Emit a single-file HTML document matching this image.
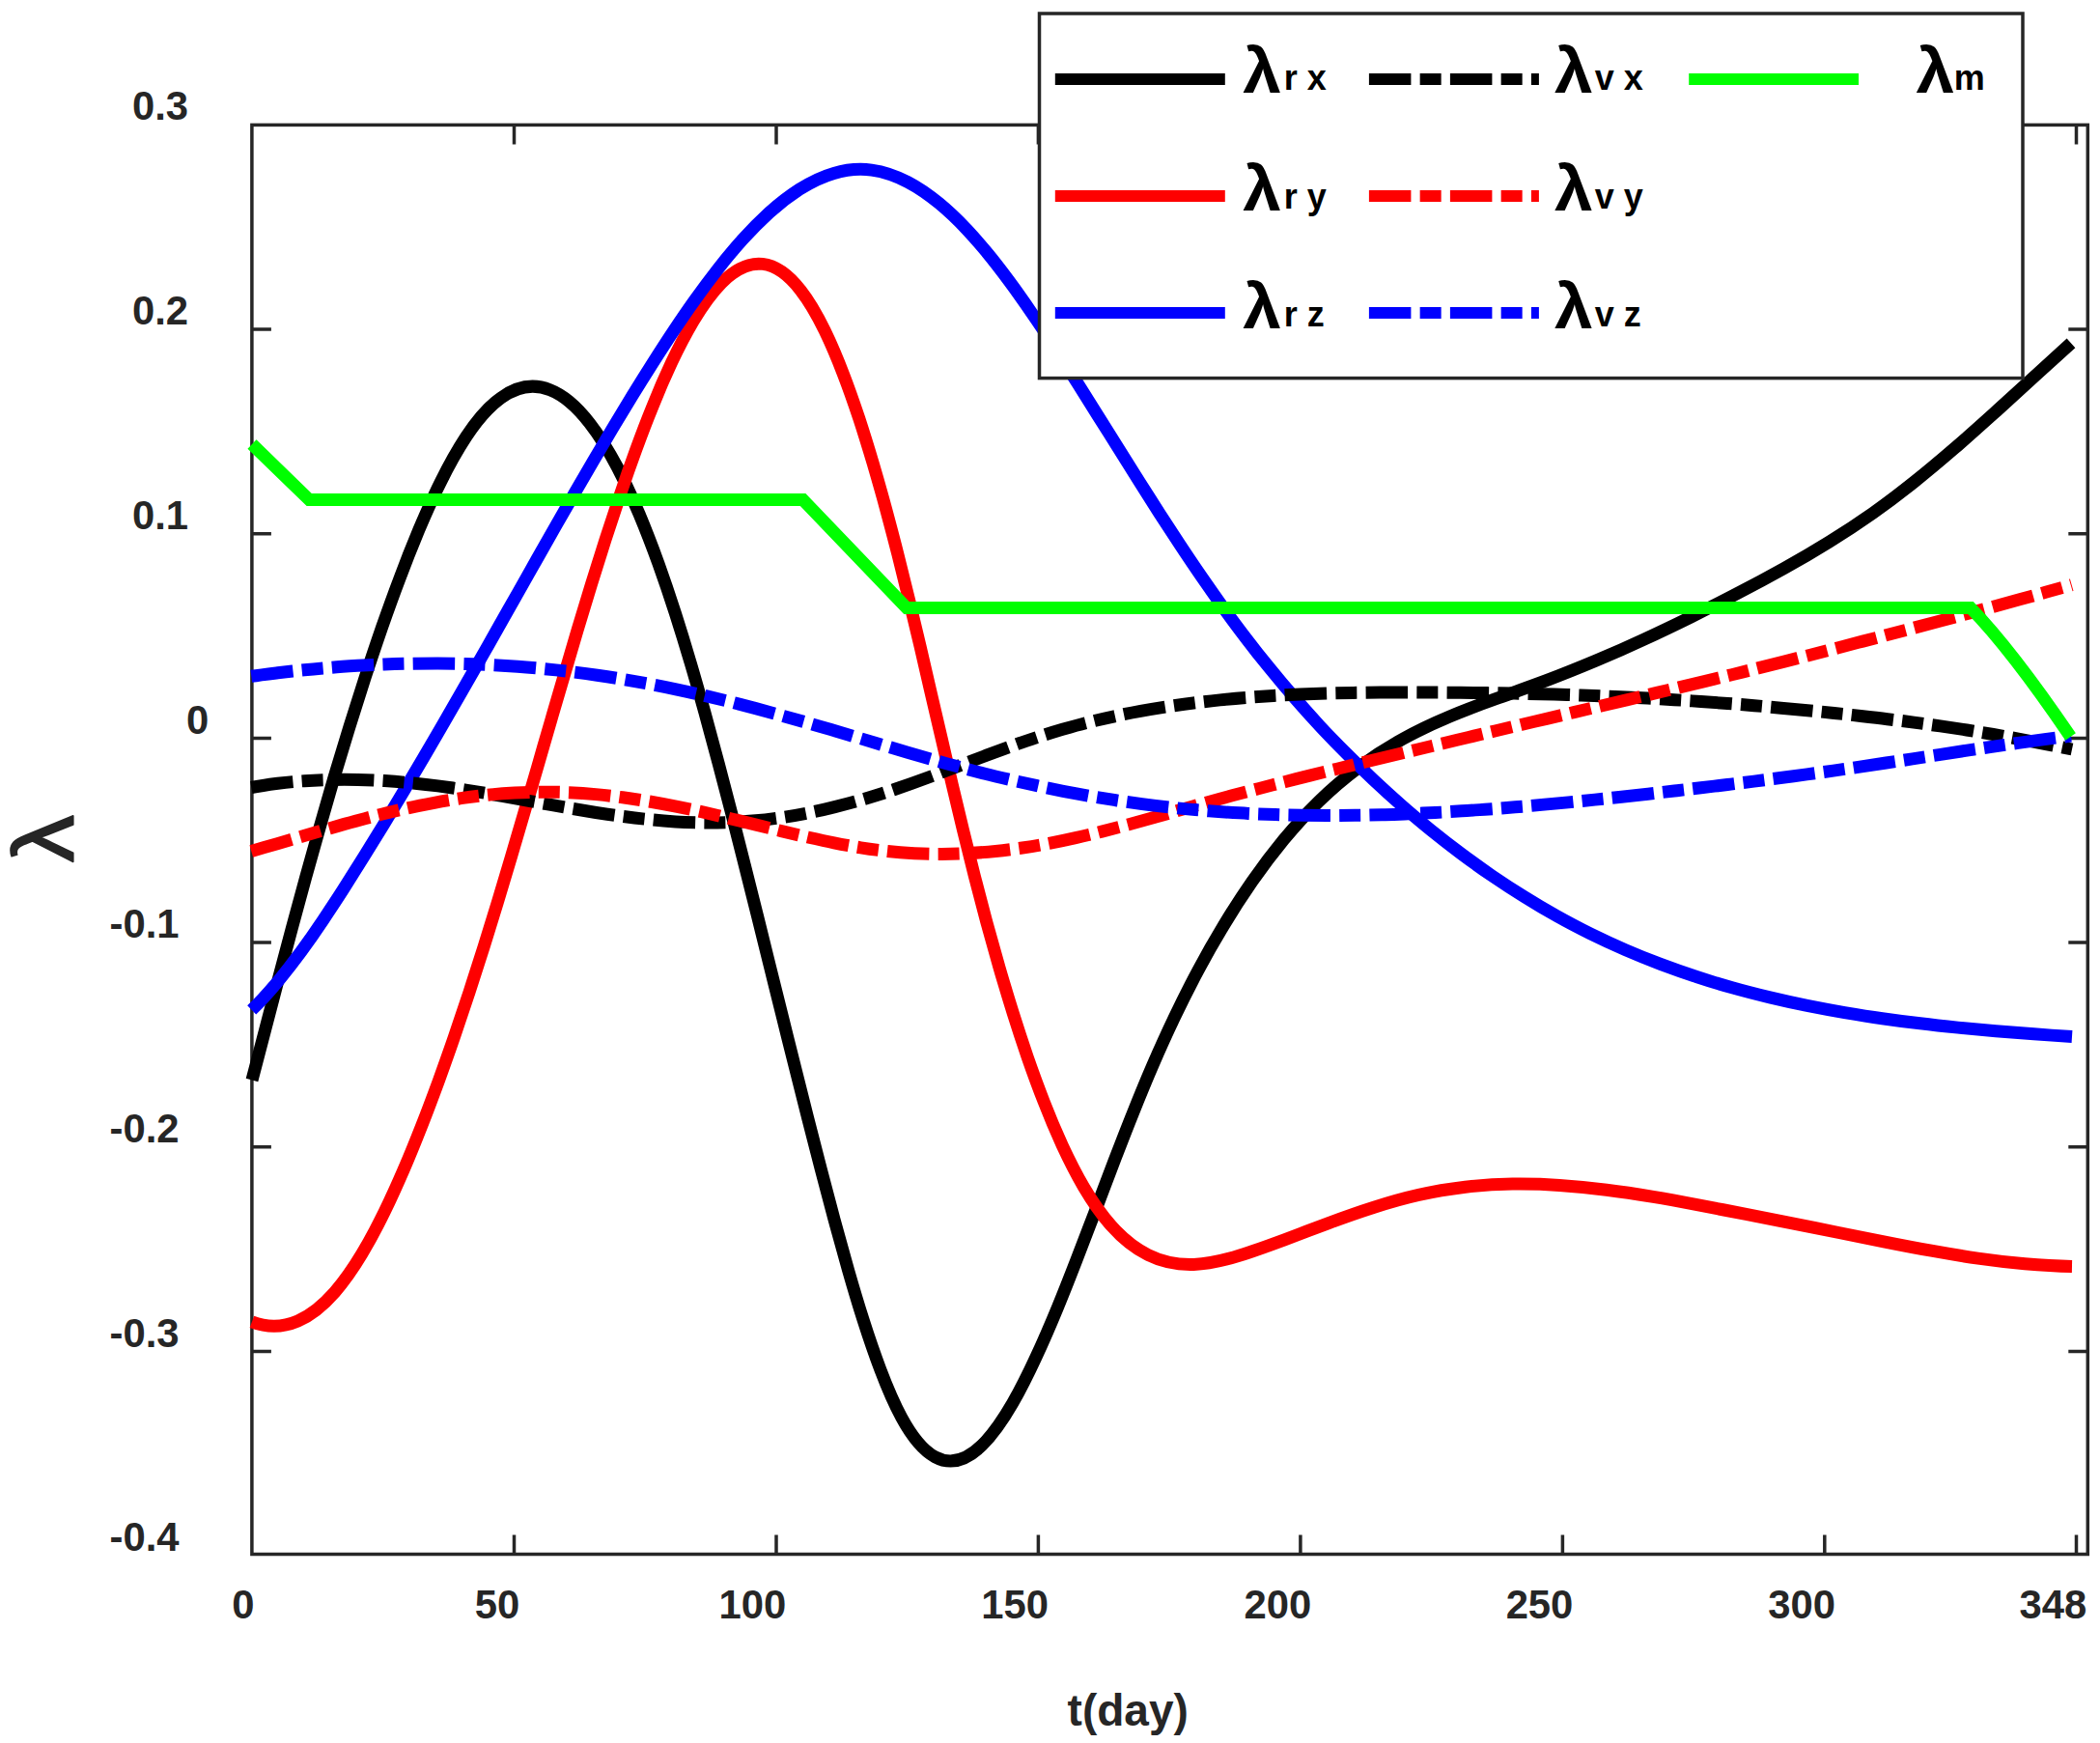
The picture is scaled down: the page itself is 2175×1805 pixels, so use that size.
<!DOCTYPE html>
<html lang="en"><head><meta charset="utf-8"><title>Costates</title>
<style>html,body{margin:0;padding:0;background:#fff}body{width:2175px;height:1805px;overflow:hidden}svg{display:block}text{font-family:"Liberation Sans",sans-serif;font-weight:bold;fill:#262626}.lam{fill:#000}.sub{fill:#000}</style></head><body>
<svg width="2175" height="1805" viewBox="0 0 2175 1805">
<rect width="2175" height="1805" fill="#fff"/>
<g fill="none" stroke="#262626" stroke-width="3.5" stroke-linecap="square">
<rect x="260.9" y="129.4" width="1901.4" height="1480.1"/>
</g>
<g fill="none" stroke="#262626" stroke-width="3.5">
<path d="M532.5 1609.5 v-20 M532.5 129.4 v20 M804.0 1609.5 v-20 M804.0 129.4 v20 M1075.4 1609.5 v-20 M1075.4 129.4 v20 M1346.9 1609.5 v-20 M1346.9 129.4 v20 M1618.4 1609.5 v-20 M1618.4 129.4 v20 M1889.8 1609.5 v-20 M1889.8 129.4 v20 M2150.5 1609.5 v-20 M2150.5 129.4 v20 M260.9 341.0 h20 M2162.3 341.0 h-20 M260.9 552.7 h20 M2162.3 552.7 h-20 M260.9 764.4 h20 M2162.3 764.4 h-20 M260.9 976.1 h20 M2162.3 976.1 h-20 M260.9 1187.8 h20 M2162.3 1187.8 h-20 M260.9 1399.5 h20 M2162.3 1399.5 h-20"/>
</g>
<g fill="none" stroke-width="13.0" stroke-linejoin="round">
<path d="M261.0 1118.5C265.6 1101.0 270.1 1083.5 274.7 1066.1C279.3 1048.5 283.8 1031.1 288.4 1013.7C293.1 996.1 297.7 978.6 302.3 961.4C307.1 943.7 311.8 926.3 316.5 909.1C321.4 891.4 326.2 874.0 331.1 856.9C336.1 839.3 341.1 821.9 346.1 804.9C351.4 787.2 356.6 769.9 361.8 753.1C367.3 735.4 372.7 718.2 378.2 701.4C383.9 683.8 389.7 666.7 395.4 650.1C401.6 632.5 407.7 615.5 413.9 599.2C420.5 581.5 427.2 564.7 433.8 548.8C441.3 531.1 448.7 514.6 456.2 499.5C465.0 481.6 473.9 465.8 482.7 452.4C494.7 434.3 506.6 420.8 518.6 412.2C535.6 399.8 552.6 397.0 569.6 403.7C583.3 409.0 597.0 420.5 610.6 438.1C620.2 450.4 629.8 465.7 639.4 483.9C647.0 498.4 654.6 514.8 662.3 532.9C668.8 548.5 675.3 565.3 681.9 583.4C687.7 599.5 693.5 616.6 699.3 634.7C704.6 651.2 709.9 668.5 715.2 686.5C720.2 703.3 725.1 720.7 730.1 738.5C734.8 755.6 739.5 773.0 744.2 790.8C748.8 808.0 753.3 825.5 757.9 843.2C762.3 860.5 766.8 878.1 771.2 895.7C775.6 913.1 780.0 930.6 784.4 948.2C788.7 965.7 793.1 983.2 797.4 1000.8C801.8 1018.3 806.1 1035.9 810.5 1053.4C814.8 1070.9 819.2 1088.5 823.6 1105.9C828.0 1123.5 832.4 1141.1 836.8 1158.4C841.3 1176.1 845.8 1193.6 850.3 1210.9C854.9 1228.6 859.5 1246.1 864.1 1263.2C869.0 1281.1 873.8 1298.6 878.6 1315.4C883.8 1333.5 889.0 1350.9 894.2 1367.3C900.1 1385.8 906.0 1402.9 911.9 1418.5C919.2 1437.8 926.5 1454.5 933.8 1468.0C945.3 1489.2 956.8 1502.5 968.4 1508.7C984.6 1517.5 1000.8 1512.5 1017.0 1496.7C1027.6 1486.4 1038.2 1471.5 1048.8 1453.1C1057.0 1438.8 1065.1 1422.6 1073.3 1404.8C1080.5 1389.3 1087.7 1372.6 1094.9 1355.2C1101.6 1338.9 1108.2 1322.1 1114.9 1304.8C1121.4 1288.2 1127.8 1271.3 1134.3 1254.3C1140.7 1237.4 1147.1 1220.4 1153.5 1203.6C1160.1 1186.5 1166.6 1169.6 1173.2 1153.2C1180.1 1135.9 1187.0 1119.1 1193.9 1103.1C1201.4 1085.9 1208.8 1069.5 1216.3 1053.8C1224.4 1036.8 1232.5 1020.7 1240.6 1005.5C1249.5 988.8 1258.5 973.1 1267.4 958.4C1277.2 942.1 1287.0 927.0 1296.8 912.9C1307.7 897.3 1318.6 882.9 1329.5 869.7C1341.6 855.0 1353.8 841.7 1366.0 829.8C1379.7 816.5 1393.5 804.9 1407.2 794.7C1422.3 783.4 1437.5 773.8 1452.7 765.4C1468.9 756.4 1485.2 748.8 1501.5 742.0C1518.3 734.9 1535.2 728.7 1552.1 722.7C1569.0 716.6 1586.0 710.6 1603.0 704.2C1619.7 697.9 1636.5 691.1 1653.2 684.1C1669.8 677.1 1686.3 669.8 1702.8 662.1C1719.1 654.6 1735.3 646.8 1751.6 638.8C1767.7 630.9 1783.8 622.7 1799.9 614.3C1815.9 606.1 1831.8 597.6 1847.7 588.7C1863.2 580.1 1878.8 571.0 1894.4 561.3C1909.4 552.0 1924.5 542.1 1939.6 531.5C1954.0 521.3 1968.4 510.4 1982.8 498.9C1996.7 487.8 2010.5 476.2 2024.4 464.2C2037.9 452.5 2051.4 440.5 2064.9 428.3C2078.3 416.2 2091.6 404.0 2105.0 391.8C2118.3 379.6 2131.7 367.4 2145.0 355.4" stroke="#000000"/>
<path d="M260.9 1368.9C276.8 1374.9 292.7 1374.8 308.5 1368.0C321.3 1362.5 334.0 1352.6 346.7 1338.1C356.1 1327.3 365.6 1313.9 375.0 1298.2C382.7 1285.3 390.4 1270.9 398.1 1255.2C404.9 1241.3 411.6 1226.4 418.4 1210.7C424.6 1196.3 430.7 1181.2 436.9 1165.4C442.7 1150.7 448.4 1135.4 454.2 1119.7C459.6 1104.7 465.1 1089.4 470.5 1073.6C475.7 1058.5 480.9 1043.0 486.1 1027.2C491.1 1012.0 496.1 996.5 501.1 980.6C505.9 965.4 510.7 949.8 515.5 933.9C520.2 918.5 524.8 902.9 529.5 887.1C534.1 871.6 538.7 855.9 543.3 840.2C547.9 824.6 552.4 808.9 557.0 793.2C561.5 777.5 566.0 761.9 570.6 746.2C575.1 730.5 579.7 714.8 584.3 699.3C588.9 683.5 593.5 667.8 598.1 652.4C602.9 636.6 607.6 620.9 612.3 605.6C617.2 589.7 622.1 574.1 627.0 558.9C632.1 543.0 637.2 527.5 642.3 512.5C647.7 496.5 653.1 481.1 658.5 466.3C664.3 450.3 670.1 435.1 676.0 420.7C682.4 404.6 688.9 389.6 695.4 375.8C703.0 359.7 710.6 345.2 718.1 332.5C727.8 316.3 737.4 303.1 747.1 293.2C761.4 278.7 775.6 271.7 789.9 273.4C803.0 274.9 816.1 283.7 829.1 300.5C837.5 311.2 845.8 325.2 854.2 342.4C860.6 355.6 867.0 370.6 873.4 387.3C878.9 401.5 884.3 416.9 889.8 433.4C894.6 448.1 899.4 463.7 904.3 480.1C908.7 495.1 913.2 510.8 917.6 527.2C921.7 542.4 925.9 558.2 930.0 574.5C933.9 589.9 937.8 605.7 941.7 621.9C945.5 637.5 949.3 653.4 953.1 669.5C956.8 685.3 960.4 701.2 964.1 717.2C967.8 733.0 971.5 748.9 975.2 764.8C978.9 780.8 982.5 796.7 986.2 812.4C990.0 828.5 993.8 844.4 997.6 860.0C1001.5 876.2 1005.4 892.0 1009.4 907.5C1013.5 923.7 1017.7 939.5 1021.8 954.8C1026.2 971.0 1030.6 986.7 1035.0 1001.9C1039.7 1018.1 1044.4 1033.7 1049.1 1048.7C1054.2 1064.9 1059.3 1080.4 1064.3 1095.1C1070.0 1111.4 1075.6 1126.7 1081.2 1141.0C1087.5 1157.3 1093.9 1172.3 1100.2 1186.1C1107.7 1202.3 1115.2 1216.8 1122.6 1229.5C1132.1 1245.6 1141.5 1258.7 1150.9 1269.3C1163.6 1283.6 1176.3 1293.3 1189.0 1299.5C1204.8 1307.4 1220.6 1309.9 1236.4 1309.4C1252.3 1308.8 1268.3 1305.0 1284.2 1300.0C1299.6 1295.2 1315.0 1289.5 1330.4 1283.8C1345.6 1278.1 1360.9 1272.3 1376.1 1266.6C1391.5 1260.9 1406.9 1255.4 1422.3 1250.5C1438.0 1245.4 1453.7 1240.9 1469.4 1237.4C1485.5 1233.7 1501.5 1231.1 1517.6 1229.2C1533.9 1227.4 1550.1 1226.4 1566.4 1226.1C1582.7 1225.9 1599.0 1226.3 1615.3 1227.4C1631.5 1228.5 1647.7 1230.1 1663.9 1232.2C1680.0 1234.2 1696.2 1236.7 1712.3 1239.4C1728.3 1242.1 1744.4 1245.1 1760.4 1248.1C1776.4 1251.2 1792.4 1254.3 1808.4 1257.4C1824.4 1260.5 1840.4 1263.7 1856.4 1266.9C1872.4 1270.1 1888.4 1273.3 1904.4 1276.5C1920.3 1279.7 1936.3 1282.9 1952.3 1286.1C1968.3 1289.3 1984.3 1292.4 2000.3 1295.2C2016.4 1298.1 2032.5 1300.8 2048.6 1303.1C2064.8 1305.4 2081.0 1307.3 2097.2 1308.8C2113.5 1310.2 2129.7 1311.2 2146.0 1311.5" stroke="#fe0000"/>
<path d="M260.7 1045.9C269.6 1037.3 278.5 1027.5 287.4 1016.8C295.5 1007.1 303.6 996.7 311.7 985.7C319.2 975.4 326.8 964.5 334.3 953.3C341.5 942.6 348.8 931.6 356.0 920.3C363.0 909.3 370.0 898.2 377.0 886.9C383.9 875.8 390.8 864.6 397.7 853.3C404.5 842.1 411.3 830.8 418.1 819.4C424.8 808.2 431.5 796.9 438.2 785.4C444.8 774.1 451.4 762.8 458.1 751.3C464.6 740.0 471.2 728.6 477.8 717.1C484.3 705.7 490.8 694.3 497.4 682.8C503.9 671.4 510.4 659.9 516.8 648.5C523.3 637.0 529.8 625.6 536.3 614.1C542.8 602.6 549.3 591.2 555.7 579.7C562.2 568.2 568.7 556.8 575.2 545.4C581.8 533.9 588.3 522.5 594.9 511.1C601.5 499.7 608.1 488.3 614.7 477.0C621.4 465.5 628.1 454.2 634.8 443.0C641.6 431.6 648.5 420.3 655.3 409.2C662.2 397.9 669.2 386.7 676.2 375.7C683.4 364.4 690.5 353.4 697.7 342.6C705.2 331.4 712.6 320.5 720.1 310.1C728.0 299.0 735.8 288.5 743.7 278.4C752.1 267.7 760.6 257.5 769.0 248.2C778.3 237.9 787.6 228.5 796.8 220.1C807.2 210.7 817.7 202.7 828.1 196.0C840.0 188.5 851.8 182.8 863.7 179.4C876.7 175.6 889.8 174.4 902.8 176.1C915.2 177.8 927.7 182.0 940.1 188.5C951.0 194.2 961.8 201.6 972.7 210.6C982.3 218.5 991.8 227.6 1001.4 237.7C1010.0 246.9 1018.6 256.9 1027.2 267.6C1035.1 277.5 1043.1 288.1 1051.1 299.1C1058.6 309.5 1066.1 320.3 1073.6 331.5C1080.9 342.2 1088.1 353.2 1095.4 364.4C1102.5 375.4 1109.5 386.5 1116.6 397.7C1123.6 408.8 1130.6 420.0 1137.6 431.2C1144.6 442.3 1151.6 453.5 1158.6 464.6C1165.6 475.8 1172.6 487.0 1179.6 498.1C1186.7 509.3 1193.7 520.4 1200.8 531.4C1208.0 542.5 1215.2 553.6 1222.4 564.5C1229.7 575.6 1237.1 586.5 1244.4 597.2C1252.0 608.2 1259.6 619.0 1267.1 629.5C1275.0 640.4 1282.8 651.0 1290.7 661.2C1298.8 671.9 1307.0 682.2 1315.2 692.2C1323.6 702.6 1332.1 712.7 1340.6 722.4C1349.4 732.5 1358.2 742.3 1367.0 751.8C1376.1 761.6 1385.3 771.1 1394.4 780.2C1403.8 789.7 1413.3 798.9 1422.7 807.7C1432.5 816.9 1442.2 825.7 1452.0 834.3C1462.0 843.1 1472.1 851.5 1482.1 859.7C1492.5 868.1 1502.9 876.2 1513.3 884.0C1524.0 892.0 1534.7 899.7 1545.4 907.0C1556.4 914.5 1567.4 921.7 1578.5 928.5C1589.8 935.6 1601.1 942.3 1612.5 948.6C1624.1 955.1 1635.8 961.2 1647.4 967.0C1659.4 972.9 1671.3 978.4 1683.3 983.6C1695.5 988.9 1707.7 993.8 1719.8 998.4C1732.3 1003.1 1744.7 1007.5 1757.1 1011.5C1769.7 1015.7 1782.3 1019.5 1794.9 1023.0C1807.6 1026.6 1820.4 1029.8 1833.1 1032.9C1846.0 1036.0 1858.8 1038.8 1871.7 1041.4C1884.6 1044.0 1897.5 1046.4 1910.5 1048.6C1923.5 1050.8 1936.5 1052.9 1949.5 1054.7C1962.6 1056.6 1975.6 1058.3 1988.7 1059.8C2001.7 1061.4 2014.8 1062.8 2027.9 1064.1C2041.0 1065.4 2054.1 1066.6 2067.2 1067.7C2080.4 1068.8 2093.5 1069.8 2106.6 1070.8C2119.7 1071.8 2132.9 1072.7 2146.0 1073.5" stroke="#0000fe"/>
<path d="M260.3 815.5C269.4 813.8 278.6 812.5 287.7 811.3C296.9 810.2 306.1 809.3 315.2 808.7C324.5 808.0 333.7 807.6 342.9 807.4C352.1 807.2 361.4 807.2 370.6 807.4C379.8 807.6 389.1 808.0 398.3 808.6C407.5 809.2 416.7 809.9 425.9 810.8C435.1 811.7 444.2 812.7 453.4 813.9C462.5 815.1 471.7 816.4 480.8 817.8C489.9 819.2 499.1 820.7 508.2 822.3C517.3 823.8 526.3 825.5 535.4 827.1C544.5 828.8 553.6 830.4 562.7 832.1C571.8 833.7 580.9 835.4 590.0 836.9C599.1 838.5 608.2 840.0 617.3 841.5C626.4 842.9 635.6 844.2 644.7 845.4C653.9 846.6 663.0 847.7 672.2 848.6C681.4 849.6 690.6 850.3 699.8 850.9C709.0 851.5 718.3 851.8 727.5 852.0C736.7 852.1 745.9 852.0 755.2 851.7C764.4 851.3 773.6 850.7 782.8 849.8C792.0 849.0 801.1 847.8 810.3 846.5C819.4 845.1 828.5 843.5 837.6 841.7C846.6 839.9 855.6 837.9 864.6 835.6C873.5 833.4 882.4 831.1 891.4 828.5C900.2 826.0 909.0 823.2 917.8 820.4C926.6 817.5 935.3 814.5 944.1 811.4C952.7 808.3 961.4 805.1 970.1 801.9C978.7 798.6 987.3 795.3 996.0 792.0C1004.6 788.7 1013.2 785.4 1021.8 782.2C1030.5 778.9 1039.2 775.7 1047.8 772.6C1056.5 769.4 1065.3 766.4 1074.0 763.5C1082.8 760.6 1091.6 757.9 1100.5 755.3C1109.4 752.8 1118.3 750.3 1127.2 748.1C1136.2 745.8 1145.2 743.7 1154.2 741.8C1163.2 739.8 1172.3 738.0 1181.3 736.4C1190.4 734.7 1199.5 733.2 1208.6 731.8C1217.8 730.4 1226.9 729.1 1236.1 728.0C1245.2 726.8 1254.4 725.8 1263.6 724.9C1272.8 723.9 1282.0 723.1 1291.2 722.4C1300.4 721.6 1309.6 721.0 1318.8 720.4C1328.0 719.9 1337.2 719.4 1346.5 719.0C1355.7 718.6 1364.9 718.3 1374.1 718.0C1383.4 717.8 1392.6 717.6 1401.8 717.4C1411.1 717.3 1420.3 717.2 1429.5 717.1C1438.8 717.0 1448.0 717.0 1457.2 717.0C1466.5 717.0 1475.7 717.0 1484.9 717.1C1494.2 717.1 1503.4 717.2 1512.6 717.3C1521.9 717.4 1531.1 717.5 1540.3 717.6C1549.6 717.8 1558.8 717.9 1568.0 718.1C1577.3 718.3 1586.5 718.5 1595.7 718.7C1604.9 719.0 1614.2 719.2 1623.4 719.5C1632.6 719.8 1641.9 720.1 1651.1 720.5C1660.3 720.9 1669.5 721.3 1678.8 721.7C1688.0 722.1 1697.2 722.6 1706.4 723.1C1715.6 723.6 1724.8 724.1 1734.1 724.7C1743.3 725.2 1752.5 725.9 1761.7 726.5C1770.9 727.1 1780.1 727.8 1789.3 728.5C1798.5 729.2 1807.7 730.0 1816.9 730.7C1826.1 731.5 1835.3 732.3 1844.5 733.2C1853.7 734.0 1862.9 734.8 1872.1 735.7C1881.3 736.6 1890.5 737.5 1899.7 738.5C1908.8 739.4 1918.0 740.4 1927.2 741.5C1936.4 742.5 1945.6 743.5 1954.7 744.7C1963.9 745.8 1973.0 746.9 1982.2 748.1C1991.3 749.3 2000.5 750.6 2009.6 751.9C2018.8 753.2 2027.9 754.6 2037.0 756.0C2046.1 757.5 2055.2 759.0 2064.4 760.5C2073.4 762.1 2082.5 763.7 2091.6 765.4C2100.7 767.1 2109.8 768.8 2118.8 770.6C2127.9 772.3 2136.9 774.1 2146.0 776.0" stroke="#000000" stroke-dasharray="43.5 9.25 22 9.25"/>
<path d="M260.3 881.5C269.3 878.9 278.2 876.3 287.2 873.7C296.2 871.1 305.1 868.4 314.1 865.8C323.1 863.2 332.0 860.5 341.0 858.0C350.0 855.4 359.0 852.8 368.0 850.4C377.0 847.9 386.0 845.5 395.1 843.3C404.1 841.0 413.2 838.9 422.3 836.9C431.5 834.8 440.6 833.0 449.8 831.3C459.0 829.6 468.2 828.1 477.4 826.7C486.7 825.4 495.9 824.2 505.2 823.3C514.5 822.3 523.8 821.6 533.1 821.1C542.5 820.5 551.8 820.2 561.1 820.2C570.5 820.1 579.8 820.3 589.1 820.7C598.5 821.1 607.8 821.7 617.1 822.6C626.4 823.5 635.6 824.5 644.9 825.8C654.1 827.0 663.4 828.5 672.6 830.0C681.8 831.6 691.0 833.3 700.2 835.2C709.3 837.0 718.4 838.9 727.6 840.9C736.7 843.0 745.8 845.1 754.9 847.3C763.9 849.4 773.0 851.6 782.1 853.9C791.1 856.1 800.2 858.4 809.3 860.6C818.4 862.8 827.5 864.9 836.6 867.0C845.7 869.0 854.8 871.0 863.9 872.8C873.1 874.7 882.3 876.3 891.5 877.8C900.8 879.3 910.0 880.5 919.3 881.5C928.6 882.6 937.9 883.3 947.2 883.8C956.5 884.2 965.9 884.5 975.2 884.4C984.5 884.4 993.9 884.1 1003.2 883.6C1012.5 883.1 1021.8 882.4 1031.1 881.5C1040.4 880.5 1049.7 879.3 1058.9 878.0C1068.1 876.6 1077.3 875.1 1086.6 873.3C1095.7 871.6 1104.8 869.7 1114.0 867.6C1123.1 865.6 1132.1 863.4 1141.2 861.1C1150.3 858.8 1159.3 856.4 1168.3 854.0C1177.3 851.5 1186.3 849.0 1195.3 846.5C1204.3 844.0 1213.3 841.4 1222.3 838.8C1231.3 836.3 1240.2 833.7 1249.2 831.2C1258.2 828.7 1267.2 826.3 1276.2 823.8C1285.3 821.4 1294.3 819.0 1303.3 816.7C1312.4 814.3 1321.4 812.0 1330.5 809.7C1339.5 807.4 1348.6 805.1 1357.6 802.9C1366.7 800.6 1375.8 798.4 1384.8 796.2C1393.9 793.9 1403.0 791.7 1412.1 789.5C1421.1 787.3 1430.2 785.2 1439.3 783.0C1448.4 780.8 1457.5 778.6 1466.5 776.5C1475.6 774.3 1484.7 772.1 1493.8 770.0C1502.9 767.8 1511.9 765.6 1521.0 763.5C1530.1 761.3 1539.2 759.1 1548.3 757.0C1557.4 754.8 1566.5 752.7 1575.5 750.5C1584.6 748.4 1593.7 746.2 1602.8 744.1C1611.9 741.9 1621.0 739.8 1630.1 737.6C1639.2 735.5 1648.3 733.4 1657.4 731.2C1666.4 729.1 1675.5 727.0 1684.6 724.8C1693.7 722.7 1702.8 720.6 1711.9 718.4C1721.0 716.3 1730.1 714.1 1739.1 711.9C1748.2 709.7 1757.3 707.6 1766.4 705.4C1775.5 703.2 1784.5 700.9 1793.6 698.7C1802.7 696.5 1811.7 694.2 1820.8 691.9C1829.8 689.7 1838.9 687.4 1847.9 685.1C1857.0 682.8 1866.0 680.5 1875.1 678.2C1884.1 675.8 1893.2 673.5 1902.2 671.2C1911.3 668.8 1920.3 666.5 1929.3 664.1C1938.4 661.8 1947.4 659.4 1956.4 657.0C1965.5 654.7 1974.5 652.3 1983.5 649.9C1992.6 647.5 2001.6 645.1 2010.6 642.7C2019.6 640.3 2028.7 637.9 2037.7 635.5C2046.7 633.1 2055.7 630.7 2064.7 628.2C2073.7 625.8 2082.7 623.3 2091.7 620.8C2100.7 618.3 2109.7 615.8 2118.7 613.3C2127.7 610.8 2136.7 608.3 2145.7 605.7" stroke="#fe0000" stroke-dasharray="43.5 9.25 22 9.25"/>
<path d="M260.3 700.3C269.4 699.0 278.6 697.9 287.7 696.8C296.9 695.7 306.0 694.7 315.2 693.8C324.4 692.8 333.6 692.0 342.7 691.3C351.9 690.5 361.1 689.9 370.3 689.3C379.5 688.8 388.7 688.3 397.9 688.0C407.1 687.6 416.4 687.3 425.6 687.2C434.8 687.0 444.0 687.0 453.2 687.0C462.4 687.1 471.6 687.2 480.9 687.5C490.1 687.7 499.3 688.1 508.5 688.5C517.7 689.0 526.9 689.6 536.1 690.3C545.3 690.9 554.4 691.7 563.6 692.6C572.8 693.5 581.9 694.5 591.1 695.6C600.2 696.7 609.4 697.9 618.5 699.2C627.6 700.5 636.7 701.9 645.8 703.5C654.9 705.0 664.0 706.6 673.1 708.3C682.1 710.0 691.1 711.8 700.2 713.8C709.2 715.7 718.1 717.7 727.1 719.8C736.1 721.9 745.1 724.0 754.0 726.2C762.9 728.5 771.9 730.8 780.8 733.1C789.7 735.5 798.6 737.9 807.5 740.4C816.3 742.8 825.2 745.3 834.1 747.9C842.9 750.4 851.8 753.0 860.6 755.6C869.5 758.2 878.3 760.9 887.1 763.5C896.0 766.1 904.8 768.8 913.6 771.4C922.5 774.0 931.3 776.7 940.1 779.2C949.0 781.8 957.9 784.4 966.7 786.9C975.6 789.4 984.5 791.9 993.4 794.2C1002.3 796.6 1011.2 799.0 1020.1 801.2C1029.1 803.5 1038.0 805.6 1047.0 807.7C1056.0 809.8 1065.0 811.8 1074.0 813.7C1083.0 815.7 1092.0 817.5 1101.1 819.3C1110.1 821.0 1119.2 822.7 1128.2 824.3C1137.3 825.9 1146.4 827.3 1155.5 828.7C1164.7 830.1 1173.8 831.4 1182.9 832.6C1192.1 833.8 1201.2 834.9 1210.4 835.9C1219.5 836.9 1228.7 837.8 1237.9 838.6C1247.1 839.4 1256.2 840.1 1265.4 840.8C1274.6 841.4 1283.8 842.0 1293.0 842.4C1302.2 842.9 1311.4 843.3 1320.7 843.6C1329.9 843.9 1339.1 844.1 1348.3 844.3C1357.5 844.4 1366.7 844.5 1375.9 844.5C1385.2 844.5 1394.4 844.4 1403.6 844.3C1412.8 844.2 1422.0 844.0 1431.2 843.7C1440.4 843.5 1449.6 843.1 1458.9 842.8C1468.1 842.4 1477.3 841.9 1486.5 841.5C1495.7 841.0 1504.9 840.4 1514.1 839.8C1523.3 839.3 1532.5 838.6 1541.7 838.0C1550.8 837.3 1560.0 836.6 1569.2 835.8C1578.4 835.1 1587.6 834.3 1596.8 833.4C1605.9 832.6 1615.1 831.8 1624.3 830.9C1633.5 830.0 1642.6 829.1 1651.8 828.1C1661.0 827.2 1670.1 826.2 1679.3 825.2C1688.5 824.2 1697.6 823.2 1706.8 822.2C1715.9 821.1 1725.1 820.1 1734.2 819.0C1743.4 818.0 1752.6 816.9 1761.7 815.8C1770.9 814.7 1780.0 813.6 1789.2 812.5C1798.3 811.3 1807.4 810.2 1816.6 809.1C1825.7 807.9 1834.9 806.7 1844.0 805.5C1853.1 804.3 1862.3 803.1 1871.4 801.9C1880.5 800.6 1889.7 799.4 1898.8 798.1C1907.9 796.8 1917.0 795.5 1926.2 794.1C1935.3 792.8 1944.4 791.4 1953.5 790.0C1962.6 788.7 1971.7 787.3 1980.8 785.9C1989.9 784.5 1999.1 783.0 2008.2 781.6C2017.3 780.2 2026.4 778.8 2035.5 777.4C2044.6 776.1 2053.7 774.7 2062.8 773.3C2071.9 772.0 2081.1 770.7 2090.2 769.4C2099.3 768.1 2108.4 766.8 2117.6 765.6C2126.7 764.4 2135.9 763.2 2145.0 762.1" stroke="#0000fe" stroke-dasharray="43.5 9.25 22 9.25"/>
<path d="M261.0 460.0 L320.3 517.6 L831.6 517.6 L939.0 629.5 L2041.0 629.5 Q2083.2 672.8 2144.5 763.0" stroke="#00fe00" stroke-linejoin="miter"/>
</g>
<g font-size="41.8">
<text x="137.0" y="124.4">0.3</text>
<text x="137.0" y="336.1">0.2</text>
<text x="137.0" y="547.8">0.1</text>
<text x="193.1" y="759.5">0</text>
<text x="113.5" y="971.2">-0.1</text>
<text x="113.5" y="1182.9">-0.2</text>
<text x="113.5" y="1394.6">-0.3</text>
<text x="113.5" y="1606.3">-0.4</text>
<text x="251.9" y="1675.7" text-anchor="middle">0</text>
<text x="515.0" y="1675.7" text-anchor="middle">50</text>
<text x="779.3" y="1675.7" text-anchor="middle">100</text>
<text x="1051.2" y="1675.7" text-anchor="middle">150</text>
<text x="1323.3" y="1675.7" text-anchor="middle">200</text>
<text x="1594.5" y="1675.7" text-anchor="middle">250</text>
<text x="1866.2" y="1675.7" text-anchor="middle">300</text>
<text x="2126.4" y="1675.7" text-anchor="middle">348</text>
</g>
<text x="1168.2" y="1786.7" font-size="46" text-anchor="middle">t(day)</text>
<text transform="translate(76.3,892.9) rotate(-90) scale(1.098,1)" font-size="89.1" style="font-weight:normal" stroke="#262626" stroke-width="1.6" stroke-linejoin="round">λ</text>
<rect x="1076.5" y="14" width="1018.5" height="377.6" fill="#fff" stroke="#262626" stroke-width="3.5"/>
<g fill="none" stroke-width="12">
<path d="M1092.8 82 H1268.8" stroke="#000000"/>
<path d="M1417.9 82 H1593.9" stroke="#000000" stroke-dasharray="43.5 9.25 22 9.25"/>
<path d="M1092.8 203 H1268.8" stroke="#fe0000"/>
<path d="M1417.9 203 H1593.9" stroke="#fe0000" stroke-dasharray="43.5 9.25 22 9.25"/>
<path d="M1092.8 324 H1268.8" stroke="#0000fe"/>
<path d="M1417.9 324 H1593.9" stroke="#0000fe" stroke-dasharray="43.5 9.25 22 9.25"/>
<path d="M1749.2 82 H1925" stroke="#00fe00"/>
</g>
<text transform="translate(1287.3,95.5) scale(1.07,1)" class="lam" font-size="66.7">λ</text><text x="1329.7" y="93.3" class="sub" font-size="36">r x</text>
<text transform="translate(1610.0,95.5) scale(1.07,1)" class="lam" font-size="66.7">λ</text><text x="1651.8" y="93.3" class="sub" font-size="36">v x</text>
<text transform="translate(1287.3,218.3) scale(1.07,1)" class="lam" font-size="66.7">λ</text><text x="1329.7" y="216.1" class="sub" font-size="36">r y</text>
<text transform="translate(1610.0,218.3) scale(1.07,1)" class="lam" font-size="66.7">λ</text><text x="1651.8" y="216.1" class="sub" font-size="36">v y</text>
<text transform="translate(1287.3,340.4) scale(1.07,1)" class="lam" font-size="66.7">λ</text><text x="1329.7" y="338.2" class="sub" font-size="36">r z</text>
<text transform="translate(1610.0,340.4) scale(1.07,1)" class="lam" font-size="66.7">λ</text><text x="1651.8" y="338.2" class="sub" font-size="36">v z</text>
<text transform="translate(1984.6,95.5) scale(1.07,1)" class="lam" font-size="66.7">λ</text><text x="2023.7" y="93.3" class="sub" font-size="36">m</text>
</svg></body></html>
